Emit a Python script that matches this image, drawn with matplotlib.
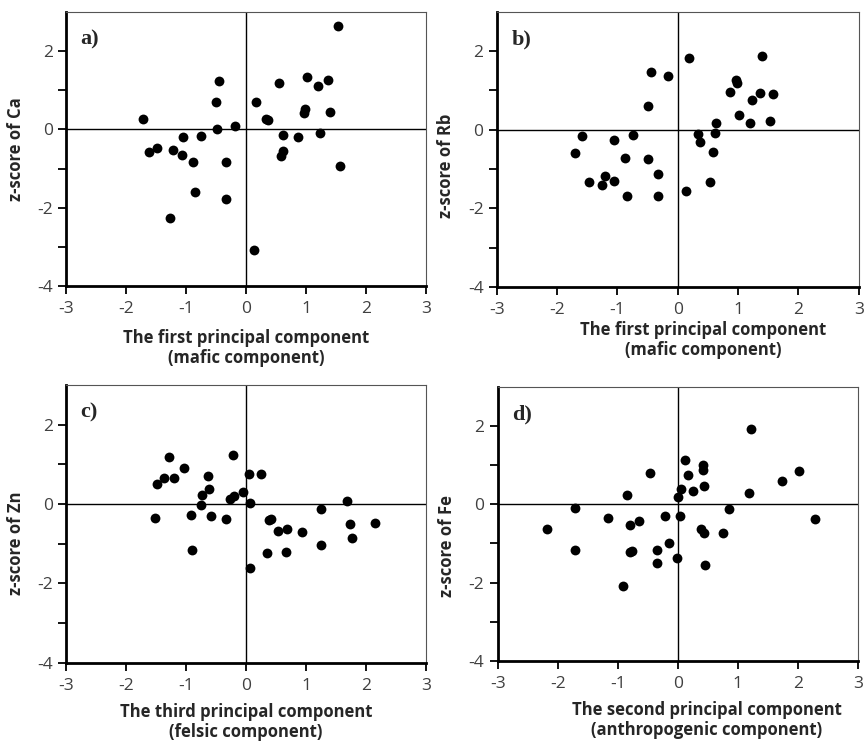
import numpy as np
import matplotlib.pyplot as plt

# panel a: PC1 (mafic) vs z-score of Ca
pc1_a = [-1.71, -1.61, -1.49, -1.22, -1.27, -1.07, -1.06, -0.88, -0.86, -0.75,
         -0.46, -0.51, -0.49, -0.34, -0.34, -0.18, 0.17, 0.13, 0.33, 0.36,
         0.54, 0.62, 0.62, 0.58, 0.86, 0.96, 0.98, 1.01, 1.19, 1.23,
         1.36, 1.39, 1.53, 1.57]
ca = [0.27, -0.58, -0.47, -0.53, -2.26, -0.65, -0.20, -0.83, -1.61, -0.17,
      1.23, 0.70, 0.02, -0.83, -1.77, 0.08, 0.69, -3.07, 0.27, 0.24,
      1.18, -0.15, -0.55, -0.69, -0.20, 0.43, 0.52, 1.35, 1.12, -0.10,
      1.25, 0.45, 2.64, -0.94]

# panel b: PC1 (mafic) vs z-score of Rb
pc1_b = [-1.71, -1.59, -1.48, -1.26, -1.21, -1.06, -1.05, -0.87, -0.85, -0.74,
         -0.45, -0.50, -0.50, -0.33, -0.33, -0.17, 0.18, 0.14, 0.34, 0.37,
         0.54, 0.63, 0.62, 0.59, 0.86, 0.96, 0.98, 1.02, 1.20, 1.23,
         1.36, 1.40, 1.53, 1.57]
rb = [-0.58, -0.16, -1.32, -1.40, -1.17, -1.30, -0.26, -0.72, -1.68, -0.14,
      1.46, 0.61, -0.75, -1.13, -1.70, 1.37, 1.82, -1.57, -0.12, -0.31,
      -1.34, 0.17, -0.09, -0.57, 0.96, 1.26, 1.19, 0.38, 0.17, 0.75,
      0.93, 1.88, 0.23, 0.92]

# panel c: PC3 (felsic) vs z-score of Zn
pc3 = [-1.51, -1.49, -1.37, -1.29, -1.20, -1.03, -0.92, -0.90, -0.76, -0.73,
       -0.64, -0.62, -0.59, -0.33, -0.27, -0.22, -0.21, -0.05, 0.04, 0.07,
       0.06, 0.25, 0.34, 0.38, 0.42, 0.53, 0.68, 0.66, 0.93, 1.24,
       1.24, 1.68, 1.73, 1.76, 2.15]
zn = [-0.34, 0.51, 0.65, 1.18, 0.66, 0.90, -0.27, -1.16, -0.03, 0.23,
      0.70, 0.38, -0.30, -0.37, 0.12, 1.23, 0.20, 0.31, 0.77, 0.02,
      -1.62, 0.77, -1.23, -0.41, -0.37, -0.69, -0.63, -1.20, -0.71, -0.12,
      -1.03, 0.09, -0.50, -0.86, -0.48]

# panel d: PC2 (anthropogenic) vs z-score of Fe
pc2 = [-2.18, -1.71, -1.71, -1.16, -0.84, -0.79, -0.79, -0.77, -0.64, -0.91,
       -0.46, -0.35, -0.35, -0.21, -0.15, -0.02, 0.01, 0.04, 0.06, 0.12,
       0.17, 0.25, 0.38, 0.42, 0.42, 0.44, 0.44, 0.46, 0.75, 0.86,
       1.19, 1.22, 1.74, 2.02, 2.28]
fe = [-0.64, -0.09, -1.16, -0.35, 0.24, -0.54, -1.22, -1.20, -0.42, -2.08,
      0.81, -1.16, -1.50, -0.29, -0.98, -1.37, 0.18, -0.30, 0.38, 1.12,
      0.75, 0.35, -0.62, 1.00, 0.87, 0.46, -0.74, -1.56, -0.73, -0.12,
      0.30, 1.92, 0.59, 0.84, -0.37]

x_ticks = [-3, -2, -1, 0, 1, 2, 3]
y_ticks = [-4, -2, 0, 2]
y_minor = [-3, -1, 1]

panels = [
    ("a)", pc1_a, ca, "z-score of Ca",
     "The first principal component\n(mafic component)"),
    ("b)", pc1_b, rb, "z-score of Rb",
     "The first principal component\n(mafic component)"),
    ("c)", pc3, zn, "z-score of Zn",
     "The third principal component\n(felsic component)"),
    ("d)", pc2, fe, "z-score of Fe",
     "The second principal component\n(anthropogenic component)"),
]

# axes rectangles [left, bottom, width, height] in figure fraction
rects = [
    [0.0764, 0.616, 0.417, 0.368],
    [0.575, 0.615, 0.419, 0.369],
    [0.0764, 0.1105, 0.417, 0.3725],
    [0.576, 0.1128, 0.417, 0.368],
]
xlab_pos = [(0.5, -0.155), (0.57, -0.125), (0.5, -0.145), (0.58, -0.145)]
ylab_y = [0.5, 0.44, 0.43, 0.42]

fig = plt.figure(figsize=(8.64, 7.45), dpi=100)
sans = "Open Sans"
tick_col = "#404040"

for (tag, xs, ys, ylab, xlab), r, xp, yy in zip(panels, rects, xlab_pos, ylab_y):
    ax = fig.add_axes(r)
    ax.axhline(0, color="black", lw=1, zorder=1)
    ax.axvline(0, color="black", lw=1, zorder=1)
    ax.scatter(xs, ys, s=50, color="black", zorder=3, linewidths=0)
    ax.set_xlim(-3, 3)
    ax.set_ylim(-4, 3)

    for side in ["left", "bottom"]:
        ax.spines[side].set_linewidth(2)
        ax.spines[side].set_color("black")
    for side in ["top", "right"]:
        ax.spines[side].set_linewidth(0.8)
        ax.spines[side].set_color("#555555")

    ax.set_xticks(x_ticks)
    ax.set_xticklabels([str(v) for v in x_ticks], family=sans)
    ax.set_yticks(y_ticks)
    ax.set_yticklabels([str(v) for v in y_ticks], family=sans)
    ax.set_yticks(y_minor, minor=True)
    ax.tick_params(axis="both", which="both", direction="out", width=1.3,
                   length=6, color="black", labelcolor=tick_col, labelsize=12.5)
    ax.tick_params(axis="x", pad=5)

    ax.text(xp[0], xp[1], xlab, transform=ax.transAxes, ha="center", va="top",
            fontsize=12, fontweight="bold", family=sans, color="#262626",
            linespacing=1.15)
    ax.text(-0.14, yy, ylab, transform=ax.transAxes, ha="center", va="center",
            rotation=90, fontsize=12, fontweight="bold", family=sans,
            color="#262626")
    ax.text(0.04, 0.9, tag, transform=ax.transAxes, ha="left", va="center",
            fontsize=16, fontweight="bold", family="Liberation Serif",
            color="#262626")

fig.savefig("out.png", dpi=100)
